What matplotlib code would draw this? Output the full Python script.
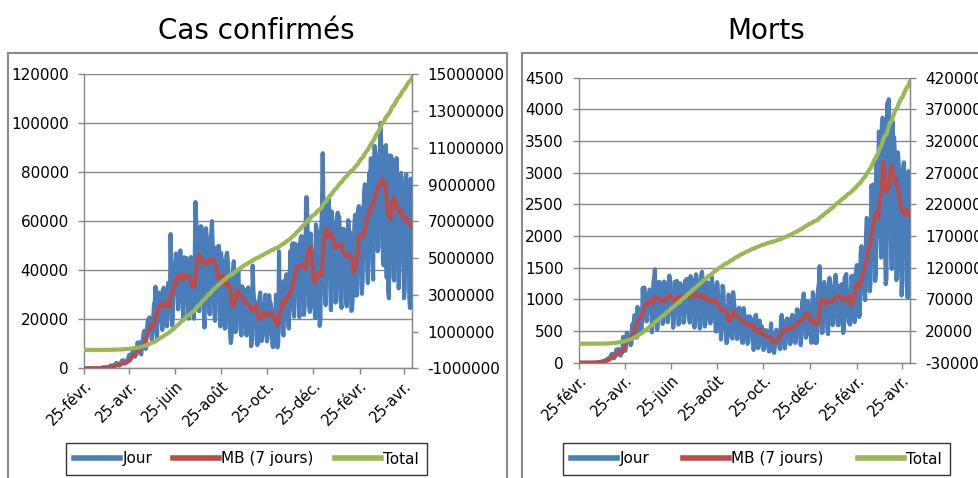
import numpy as np
import pandas as pd
import matplotlib
matplotlib.use("Agg")
import matplotlib.pyplot as plt
from matplotlib.patches import Rectangle

plt.rcParams['font.family'] = ['DejaVu Sans']
plt.rcParams['axes.unicode_minus'] = False

# jours du 25 fevr. 2020 au 6 mai 2021 (Bresil)
start_date = '2020-02-25'

# cas confirmes par jour (une ligne = une semaine, mardi -> lundi)
cas_jour = [
    0, 1, 0, 0, 1, 0, 0,
    0, 1, 5, 5, 0, 5, 12,
    9, 18, 25, 21, 23, 79, 34,
    57, 137, 193, 283, 224, 418, 345,
    310, 232, 482, 502, 487, 352, 323,
    1138, 1119, 1074, 1146, 1222, 852, 926,
    1661, 2210, 1930, 1781, 1089, 1442, 1261,
    1832, 3058, 2105, 3257, 2917, 2055, 1927,
    2336, 2678, 3735, 3503, 5514, 3379, 4613,
    5385, 6276, 7218, 5015, 4898, 4726, 6633,
    6935, 10503, 9888, 10222, 10611, 6760, 5632,
    9258, 11385, 13944, 15305, 14919, 7938, 13140,
    17408, 19951, 18508, 20803, 16508, 15813, 11687,
    16324, 20599, 26417, 26928, 33274, 16409, 11598,
    28936, 28633, 30925, 30830, 27075, 18912, 15654,
    32091, 32913, 30412, 25982, 21704, 17110, 20647,
    34918, 32188, 22765, 54771, 34666, 17459, 21432,
    39436, 42725, 39483, 46860, 38693, 30476, 24052,
    33846, 46712, 48105, 42223, 37923, 26051, 20229,
    45305, 44571, 42619, 45048, 39023, 24831, 20286,
    41857, 39924, 45403, 34177, 28532, 23529, 20257,
    41008, 67860, 59961, 55891, 51147, 24578, 23284,
    40816, 58000, 57837, 52383, 45392, 25800, 16641,
    51603, 57152, 53139, 50230, 49970, 23010, 22048,
    52160, 55155, 60091, 49298, 41576, 23101, 19373,
    47784, 49298, 45323, 30355, 50032, 23421, 17078,
    47100, 42200, 44200, 41300, 32000, 16200, 16400,
    45900, 47100, 43800, 30700, 31200, 14500, 10300,
    13100, 35800, 40600, 43700, 33500, 14800, 15100,
    36600, 36800, 39800, 29800, 33100, 16400, 13400,
    33500, 32800, 31900, 31900, 28500, 14300, 13400,
    32000, 33000, 27800, 26000, 24600, 9000, 11800,
    41900, 31500, 27700, 27000, 26700, 13200, 9500,
    10200, 27200, 28500, 30900, 24000, 11100, 13400,
    24800, 24800, 26300, 30000, 18800, 11000, 13500,
    28600, 29800, 26100, 26600, 22000, 10100, 8600,
    23900, 23300, 18600, 30000, 10000, 8500, 11000,
    47700, 23900, 35300, 30700, 29100, 14300, 13400,
    35800, 35300, 34000, 38400, 32400, 18600, 16200,
    31100, 47900, 37600, 37600, 51000, 24500, 21100,
    50900, 49900, 50400, 43800, 46900, 26400, 20900,
    51100, 53500, 54000, 43900, 43100, 21800, 25200,
    42900, 69800, 69800, 54100, 50100, 26100, 23000,
    55000, 48300, 42000, 25000, 29000, 25600, 20500,
    58700, 56600, 55600, 24600, 33000, 17300, 20000,
    56600, 64000, 87800, 64100, 62300, 29800, 25800,
    61000, 68900, 64300, 69100, 62000, 33000, 23700,
    64000, 59100, 59600, 56600, 52000, 26800, 28300,
    61900, 63500, 60700, 61800, 52000, 26800, 24600,
    56900, 54100, 56900, 51100, 52000, 27600, 25300,
    51300, 60400, 54300, 55800, 44300, 23400, 24000,
    30000, 40200, 57900, 62700, 57600, 29600, 33600,
    65000, 66200, 65800, 61300, 58500, 30400, 35700,
    59900, 71700, 75100, 75000, 69600, 43800, 34800,
    70700, 79900, 75400, 85700, 71700, 43800, 36200,
    83900, 90800, 86900, 85300, 79100, 47800, 49300,
    82500, 89900, 100200, 84200, 85900, 44300, 42000,
    84500, 90600, 91100, 37000, 70200, 31400, 28600,
    86900, 86600, 86700, 85300, 69800, 37000, 35800,
    82800, 73200, 85800, 71500, 67600, 32600, 42900,
    72000, 79700, 69100, 73900, 67900, 28600, 32600,
    77700, 79200, 69400, 67000, 62000, 28900, 24600,
    77400, 73400, 73300,
]

# morts par jour
morts_jour = [
    0, 0, 0, 0, 0, 0, 0,
    0, 0, 0, 0, 0, 0, 0,
    0, 0, 0, 0, 0, 0, 0,
    1, 3, 4, 7, 7, 3, 9,
    12, 11, 20, 15, 22, 22, 23,
    40, 42, 58, 60, 73, 54, 67,
    114, 133, 141, 115, 68, 99, 105,
    204, 204, 188, 217, 206, 115, 113,
    166, 165, 407, 357, 346, 189, 338,
    474, 449, 435, 428, 421, 275, 296,
    600, 615, 610, 751, 730, 496, 396,
    881, 749, 844, 824, 816, 485, 674,
    1179, 888, 1188, 1001, 965, 653, 807,
    1039, 1086, 1156, 1124, 956, 480, 623,
    1262, 1349, 1473, 1005, 904, 525, 679,
    1272, 1274, 1239, 909, 843, 612, 627,
    1282, 1269, 1238, 1206, 1022, 641, 748,
    1374, 1185, 990, 1109, 1103, 552, 692,
    1280, 1038, 1252, 1290, 1091, 602, 620,
    1254, 1223, 1220, 1214, 1071, 631, 733,
    1300, 1233, 1322, 1163, 921, 716, 632,
    1367, 1284, 1311, 1156, 1211, 555, 627,
    1395, 1354, 1129, 1212, 1088, 541, 561,
    1394, 1437, 1226, 1079, 905, 572, 703,
    1274, 1175, 1262, 1060, 709, 620, 684,
    1352, 1212, 1204, 1054, 892, 494, 494,
    1271, 1085, 984, 855, 758, 366, 553,
    1215, 1184, 834, 907, 682, 310, 315,
    504, 1075, 983, 874, 814, 415, 381,
    1113, 987, 858, 829, 739, 377, 377,
    836, 869, 831, 729, 691, 314, 317,
    863, 729, 706, 728, 554, 297, 322,
    734, 729, 709, 686, 615, 353, 201,
    309, 718, 754, 639, 461, 230, 271,
    664, 566, 497, 571, 432, 201, 231,
    510, 513, 510, 499, 396, 180, 179,
    412, 620, 251, 389, 217, 155, 259,
    480, 521, 401, 471, 467, 232, 216,
    676, 754, 598, 655, 500, 224, 302,
    630, 698, 691, 597, 543, 292, 317,
    697, 755, 672, 667, 674, 313, 376,
    842, 837, 770, 769, 686, 279, 433,
    964, 936, 1092, 823, 688, 394, 538,
    968, 963, 821, 458, 488, 314, 465,
    1111, 1074, 462, 314, 485, 314, 543,
    1171, 1242, 1524, 1035, 1050, 469, 480,
    1110, 1274, 1151, 1050, 1050, 551, 452,
    1183, 1340, 1066, 1096, 1052, 592, 627,
    1214, 1283, 1386, 1232, 1054, 595, 595,
    1209, 1209, 1232, 1239, 911, 469, 569,
    1350, 1330, 1400, 1087, 1000, 650, 620,
    600, 1030, 1367, 1212, 1367, 1080, 639,
    1386, 1428, 1541, 1337, 1275, 721, 778,
    1726, 1840, 1699, 1800, 1555, 1086, 987,
    1972, 2286, 2233, 2216, 1997, 1127, 1275,
    2798, 2736, 2724, 2815, 2438, 1290, 1383,
    3251, 2009, 2724, 3650, 3438, 1987, 1660,
    3780, 3869, 3769, 2922, 1987, 1240, 1319,
    4100, 3829, 4160, 3693, 2616, 1824, 1480,
    3808, 3459, 3560, 3305, 2865, 1305, 1347,
    3321, 3157, 2900, 2914, 2202, 1062, 1305,
    3086, 3163, 2595, 2965, 2656, 1202, 1024,
    3025, 2811, 2550,
]

tick_dates = ['2020-02-25', '2020-04-25', '2020-06-25', '2020-08-25',
              '2020-10-25', '2020-12-25', '2021-02-25', '2021-04-25']
tick_labels = ['25-févr.', '25-avr.', '25-juin', '25-août',
               '25-oct.', '25-déc.', '25-févr.', '25-avr.']

cas_left_ticks = [0, 20000, 40000, 60000, 80000, 100000, 120000]
cas_right_ticks = [-1000000, 1000000, 3000000, 5000000, 7000000,
                   9000000, 11000000, 13000000, 15000000]
morts_left_ticks = [0, 500, 1000, 1500, 2000, 2500, 3000, 3500, 4000, 4500]
morts_right_ticks = [-30000, 20000, 70000, 120000, 170000, 220000,
                     270000, 320000, 370000, 420000]

BLUE = '#4a7ebb'
RED = '#be4b48'
GREEN = '#98b954'
GRID = '#878787'

W, H = 979, 478
fig = plt.figure(figsize=(W / 100, H / 100), dpi=100)


def px_axes(x0, y0, x1, y1):
    # pixel box (top-left origin) -> figure axes
    return fig.add_axes([x0 / W, 1 - y1 / H, (x1 - x0) / W, (y1 - y0) / H])


def panel(box, jour, left_ticks, right_ticks, title, title_x, leg_box):
    dates = pd.date_range(start_date, periods=len(jour), freq='D')
    s = pd.Series(jour, index=dates, dtype=float)
    mb = s.rolling(7, min_periods=1).mean()
    total = s.cumsum()

    ax = px_axes(*box)
    ax.plot(dates, s.values, color=BLUE, lw=3.0, zorder=3, solid_joinstyle='round')
    ax.plot(dates, mb.values, color=RED, lw=2.8, zorder=4)
    ax.set_ylim(left_ticks[0], left_ticks[-1])
    ax.set_yticks(left_ticks)
    ax.set_yticklabels([str(v) for v in left_ticks])
    ax.set_xlim(dates[0], dates[-1])
    ax.set_xticks(pd.to_datetime(tick_dates))
    ax.set_xticklabels(tick_labels, rotation=45, ha='right', va='top',
                       rotation_mode='anchor')
    ax.grid(axis='y', color=GRID, lw=1.0, zorder=0)
    ax.set_axisbelow(True)
    ax.spines['top'].set_visible(False)
    for side in ['left', 'bottom', 'right']:
        ax.spines[side].set_color(GRID)
        ax.spines[side].set_linewidth(1.0)
    ax.tick_params(axis='y', length=4, width=1, color=GRID, pad=7, labelsize=11)
    ax.tick_params(axis='x', length=4, width=1, color=GRID, pad=3, labelsize=10.5)

    ax2 = ax.twinx()
    ax2.plot(dates, total.values, color=GREEN, lw=3.0, zorder=5)
    ax2.set_ylim(right_ticks[0], right_ticks[-1])
    ax2.set_yticks(right_ticks)
    ax2.set_yticklabels([str(v) for v in right_ticks])
    for side in ['top', 'left', 'bottom']:
        ax2.spines[side].set_visible(False)
    ax2.spines['right'].set_color(GRID)
    ax2.tick_params(axis='y', length=4, width=1, color=GRID, pad=7, labelsize=11)

    fig.text(title_x / W, 1 - 31 / H, title, ha='center', va='center', fontsize=20)

    handles = [plt.Line2D([], [], color=BLUE, lw=4),
               plt.Line2D([], [], color=RED, lw=4),
               plt.Line2D([], [], color=GREEN, lw=4)]
    x0, y0, x1, y1 = leg_box
    leg = fig.legend(handles, ['Jour', 'MB (7 jours)', 'Total'], ncol=3,
                     loc='center', mode='expand',
                     bbox_to_anchor=(x0 / W, 1 - y1 / H, (x1 - x0) / W, (y1 - y0) / H),
                     fontsize=11, frameon=True, fancybox=False,
                     edgecolor='black', handlelength=3.0, handletextpad=0.15,
                     borderpad=0.55, borderaxespad=0)
    leg.get_frame().set_linewidth(1.0)
    return ax


# cadres gris autour de chaque graphique
fig.patches.append(Rectangle((8.3 / W, -0.1), (506.7 - 8.3) / W, 1.1 - 53.3 / H,
                             transform=fig.transFigure, fill=False,
                             ec='#8a8a8a', lw=1.5))
fig.patches.append(Rectangle((522.3 / W, -0.1), 0.6, 1.1 - 53.3 / H,
                             transform=fig.transFigure, fill=False,
                             ec='#8a8a8a', lw=1.5))

panel((84, 74.3, 412.3, 368.3), cas_jour, cas_left_ticks, cas_right_ticks,
      'Cas confirmés', 256, (66, 443, 427, 475))
panel((579, 77.7, 910, 362.7), morts_jour, morts_left_ticks, morts_right_ticks,
      'Morts', 766, (563, 443, 950, 475))

fig.savefig('out.png', dpi=100)
